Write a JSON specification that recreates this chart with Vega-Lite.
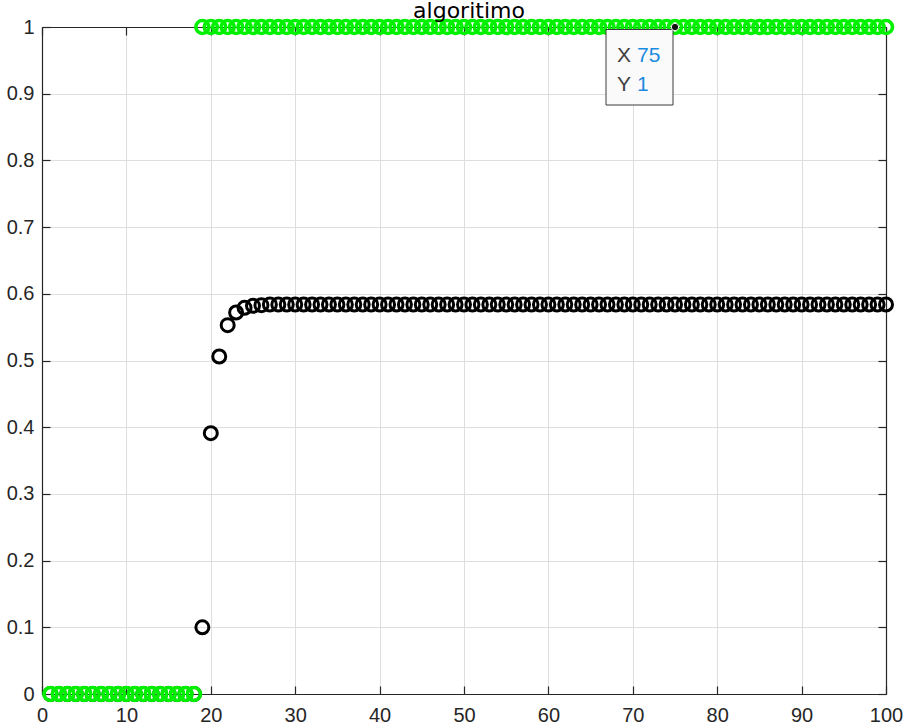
{
  "$schema": "https://vega.github.io/schema/vega-lite/v6.json",
  "width": 844,
  "height": 667,
  "autosize": "none",
  "padding": {"left": 42, "top": 27, "right": 21, "bottom": 32},
  "background": "white",
  "config": {
    "font": "Liberation Sans",
    "view": {"stroke": null},
    "axis": {"labelFont": "Liberation Sans", "labelFontSize": 20, "labelColor": "#262626", "domainColor": "#262626", "tickColor": "#262626", "gridColor": "#dedede", "gridOpacity": 1, "gridWidth": 1, "domainWidth": 1.2, "tickWidth": 1.2}
  },
  "title": {"text": "algoritimo", "fontSize": 22, "fontWeight": "normal", "color": "#000000", "anchor": "middle", "frame": "group", "offset": -27, "dx": 5, "baseline": "alphabetic", "font": "DejaVu Sans"},
  "datasets": {
    "salida": [
      {"k": 1, "v": 0}, {"k": 2, "v": 0}, {"k": 3, "v": 0}, {"k": 4, "v": 0}, {"k": 5, "v": 0},
      {"k": 6, "v": 0}, {"k": 7, "v": 0}, {"k": 8, "v": 0}, {"k": 9, "v": 0}, {"k": 10, "v": 0},
      {"k": 11, "v": 0}, {"k": 12, "v": 0}, {"k": 13, "v": 0}, {"k": 14, "v": 0}, {"k": 15, "v": 0},
      {"k": 16, "v": 0}, {"k": 17, "v": 0}, {"k": 18, "v": 0}, {"k": 19, "v": 0.1}, {"k": 20, "v": 0.391},
      {"k": 21, "v": 0.506}, {"k": 22, "v": 0.553}, {"k": 23, "v": 0.572}, {"k": 24, "v": 0.579}, {"k": 25, "v": 0.582},
      {"k": 26, "v": 0.583}, {"k": 27, "v": 0.584}, {"k": 28, "v": 0.584}, {"k": 29, "v": 0.584}, {"k": 30, "v": 0.584},
      {"k": 31, "v": 0.584}, {"k": 32, "v": 0.584}, {"k": 33, "v": 0.584}, {"k": 34, "v": 0.584}, {"k": 35, "v": 0.584},
      {"k": 36, "v": 0.584}, {"k": 37, "v": 0.584}, {"k": 38, "v": 0.584}, {"k": 39, "v": 0.584}, {"k": 40, "v": 0.584},
      {"k": 41, "v": 0.584}, {"k": 42, "v": 0.584}, {"k": 43, "v": 0.584}, {"k": 44, "v": 0.584}, {"k": 45, "v": 0.584},
      {"k": 46, "v": 0.584}, {"k": 47, "v": 0.584}, {"k": 48, "v": 0.584}, {"k": 49, "v": 0.584}, {"k": 50, "v": 0.584},
      {"k": 51, "v": 0.584}, {"k": 52, "v": 0.584}, {"k": 53, "v": 0.584}, {"k": 54, "v": 0.584}, {"k": 55, "v": 0.584},
      {"k": 56, "v": 0.584}, {"k": 57, "v": 0.584}, {"k": 58, "v": 0.584}, {"k": 59, "v": 0.584}, {"k": 60, "v": 0.584},
      {"k": 61, "v": 0.584}, {"k": 62, "v": 0.584}, {"k": 63, "v": 0.584}, {"k": 64, "v": 0.584}, {"k": 65, "v": 0.584},
      {"k": 66, "v": 0.584}, {"k": 67, "v": 0.584}, {"k": 68, "v": 0.584}, {"k": 69, "v": 0.584}, {"k": 70, "v": 0.584},
      {"k": 71, "v": 0.584}, {"k": 72, "v": 0.584}, {"k": 73, "v": 0.584}, {"k": 74, "v": 0.584}, {"k": 75, "v": 0.584},
      {"k": 76, "v": 0.584}, {"k": 77, "v": 0.584}, {"k": 78, "v": 0.584}, {"k": 79, "v": 0.584}, {"k": 80, "v": 0.584},
      {"k": 81, "v": 0.584}, {"k": 82, "v": 0.584}, {"k": 83, "v": 0.584}, {"k": 84, "v": 0.584}, {"k": 85, "v": 0.584},
      {"k": 86, "v": 0.584}, {"k": 87, "v": 0.584}, {"k": 88, "v": 0.584}, {"k": 89, "v": 0.584}, {"k": 90, "v": 0.584},
      {"k": 91, "v": 0.584}, {"k": 92, "v": 0.584}, {"k": 93, "v": 0.584}, {"k": 94, "v": 0.584}, {"k": 95, "v": 0.584},
      {"k": 96, "v": 0.584}, {"k": 97, "v": 0.584}, {"k": 98, "v": 0.584}, {"k": 99, "v": 0.584}, {"k": 100, "v": 0.584}
    ],
    "referencia": [
      {"k": 1, "v": 0}, {"k": 2, "v": 0}, {"k": 3, "v": 0}, {"k": 4, "v": 0}, {"k": 5, "v": 0},
      {"k": 6, "v": 0}, {"k": 7, "v": 0}, {"k": 8, "v": 0}, {"k": 9, "v": 0}, {"k": 10, "v": 0},
      {"k": 11, "v": 0}, {"k": 12, "v": 0}, {"k": 13, "v": 0}, {"k": 14, "v": 0}, {"k": 15, "v": 0},
      {"k": 16, "v": 0}, {"k": 17, "v": 0}, {"k": 18, "v": 0}, {"k": 19, "v": 1}, {"k": 20, "v": 1},
      {"k": 21, "v": 1}, {"k": 22, "v": 1}, {"k": 23, "v": 1}, {"k": 24, "v": 1}, {"k": 25, "v": 1},
      {"k": 26, "v": 1}, {"k": 27, "v": 1}, {"k": 28, "v": 1}, {"k": 29, "v": 1}, {"k": 30, "v": 1},
      {"k": 31, "v": 1}, {"k": 32, "v": 1}, {"k": 33, "v": 1}, {"k": 34, "v": 1}, {"k": 35, "v": 1},
      {"k": 36, "v": 1}, {"k": 37, "v": 1}, {"k": 38, "v": 1}, {"k": 39, "v": 1}, {"k": 40, "v": 1},
      {"k": 41, "v": 1}, {"k": 42, "v": 1}, {"k": 43, "v": 1}, {"k": 44, "v": 1}, {"k": 45, "v": 1},
      {"k": 46, "v": 1}, {"k": 47, "v": 1}, {"k": 48, "v": 1}, {"k": 49, "v": 1}, {"k": 50, "v": 1},
      {"k": 51, "v": 1}, {"k": 52, "v": 1}, {"k": 53, "v": 1}, {"k": 54, "v": 1}, {"k": 55, "v": 1},
      {"k": 56, "v": 1}, {"k": 57, "v": 1}, {"k": 58, "v": 1}, {"k": 59, "v": 1}, {"k": 60, "v": 1},
      {"k": 61, "v": 1}, {"k": 62, "v": 1}, {"k": 63, "v": 1}, {"k": 64, "v": 1}, {"k": 65, "v": 1},
      {"k": 66, "v": 1}, {"k": 67, "v": 1}, {"k": 68, "v": 1}, {"k": 69, "v": 1}, {"k": 70, "v": 1},
      {"k": 71, "v": 1}, {"k": 72, "v": 1}, {"k": 73, "v": 1}, {"k": 74, "v": 1}, {"k": 75, "v": 1},
      {"k": 76, "v": 1}, {"k": 77, "v": 1}, {"k": 78, "v": 1}, {"k": 79, "v": 1}, {"k": 80, "v": 1},
      {"k": 81, "v": 1}, {"k": 82, "v": 1}, {"k": 83, "v": 1}, {"k": 84, "v": 1}, {"k": 85, "v": 1},
      {"k": 86, "v": 1}, {"k": 87, "v": 1}, {"k": 88, "v": 1}, {"k": 89, "v": 1}, {"k": 90, "v": 1},
      {"k": 91, "v": 1}, {"k": 92, "v": 1}, {"k": 93, "v": 1}, {"k": 94, "v": 1}, {"k": 95, "v": 1},
      {"k": 96, "v": 1}, {"k": 97, "v": 1}, {"k": 98, "v": 1}, {"k": 99, "v": 1}, {"k": 100, "v": 1}
    ],
    "tip": [{"k": 75, "v": 1}]
  },
  "resolve": {"axis": {"x": "independent", "y": "independent"}},
  "layer": [
    {
      "data": {"name": "salida"},
      "mark": {"type": "point", "shape": "circle", "filled": false, "stroke": "#000000", "strokeWidth": 3, "size": 169, "opacity": 1},
      "encoding": {
        "x": {"field": "k", "type": "quantitative", "scale": {"domain": [0, 100], "nice": false, "zero": false},
          "axis": {"orient": "bottom", "title": null, "values": [0, 10, 20, 30, 40, 50, 60, 70, 80, 90, 100], "grid": true, "tickSize": -8, "labelPadding": 19, "labelFlush": false, "labelOverlap": false}},
        "y": {"field": "v", "type": "quantitative", "scale": {"domain": [0, 1], "nice": false, "zero": false},
          "axis": {"orient": "left", "title": null, "format": "~g", "values": [0, 0.1, 0.2, 0.3, 0.4, 0.5, 0.6, 0.7, 0.8, 0.9, 1], "grid": true, "tickSize": -8, "labelPadding": 16, "labelFlush": false, "labelOverlap": false}}
      }
    },
    {
      "data": {"name": "referencia"},
      "mark": {"type": "point", "shape": "circle", "filled": false, "stroke": "#00f000", "strokeWidth": 3.6, "size": 169, "opacity": 1},
      "encoding": {
        "x": {"field": "k", "type": "quantitative",
          "axis": {"orient": "top", "title": null, "values": [0, 10, 20, 30, 40, 50, 60, 70, 80, 90, 100], "grid": false, "labels": false, "tickSize": -8}},
        "y": {"field": "v", "type": "quantitative",
          "axis": {"orient": "right", "title": null, "values": [0, 0.1, 0.2, 0.3, 0.4, 0.5, 0.6, 0.7, 0.8, 0.9, 1], "grid": false, "labels": false, "tickSize": -8}}
      }
    },
    {
      "data": {"name": "tip"},
      "mark": {"type": "point", "shape": "M-6.9,0.25H-0.2V7.8H-6.9Z", "size": 400, "filled": true, "fill": "#fafafa", "stroke": "#3c3c3c", "strokeWidth": 1, "opacity": 1},
      "encoding": {
        "x": {"field": "k", "type": "quantitative", "axis": null},
        "y": {"field": "v", "type": "quantitative", "axis": null}
      }
    },
    {
      "data": {"name": "tip"},
      "mark": {"type": "point", "shape": "circle", "size": 55, "filled": true, "fill": "#111111", "stroke": "#ffffff", "strokeWidth": 1, "opacity": 1},
      "encoding": {
        "x": {"field": "k", "type": "quantitative", "axis": null},
        "y": {"field": "v", "type": "quantitative", "axis": null}
      }
    },
    {
      "data": {"name": "tip"},
      "mark": {"type": "text", "text": "X", "align": "left", "baseline": "alphabetic", "dx": -58, "dy": 35, "fontSize": 21, "color": "#404040"},
      "encoding": {
        "x": {"field": "k", "type": "quantitative", "axis": null},
        "y": {"field": "v", "type": "quantitative", "axis": null}
      }
    },
    {
      "data": {"name": "tip"},
      "mark": {"type": "text", "text": "Y", "align": "left", "baseline": "alphabetic", "dx": -58, "dy": 64, "fontSize": 21, "color": "#404040"},
      "encoding": {
        "x": {"field": "k", "type": "quantitative", "axis": null},
        "y": {"field": "v", "type": "quantitative", "axis": null}
      }
    },
    {
      "data": {"name": "tip"},
      "mark": {"type": "text", "align": "left", "baseline": "alphabetic", "dx": -38, "dy": 35, "fontSize": 21, "color": "#1a8be0"},
      "encoding": {
        "x": {"field": "k", "type": "quantitative", "axis": null},
        "y": {"field": "v", "type": "quantitative", "axis": null},
        "text": {"field": "k", "type": "quantitative"}
      }
    },
    {
      "data": {"name": "tip"},
      "mark": {"type": "text", "align": "left", "baseline": "alphabetic", "dx": -38, "dy": 64, "fontSize": 21, "color": "#1a8be0"},
      "encoding": {
        "x": {"field": "k", "type": "quantitative", "axis": null},
        "y": {"field": "v", "type": "quantitative", "axis": null},
        "text": {"field": "v", "type": "quantitative"}
      }
    }
  ]
}
